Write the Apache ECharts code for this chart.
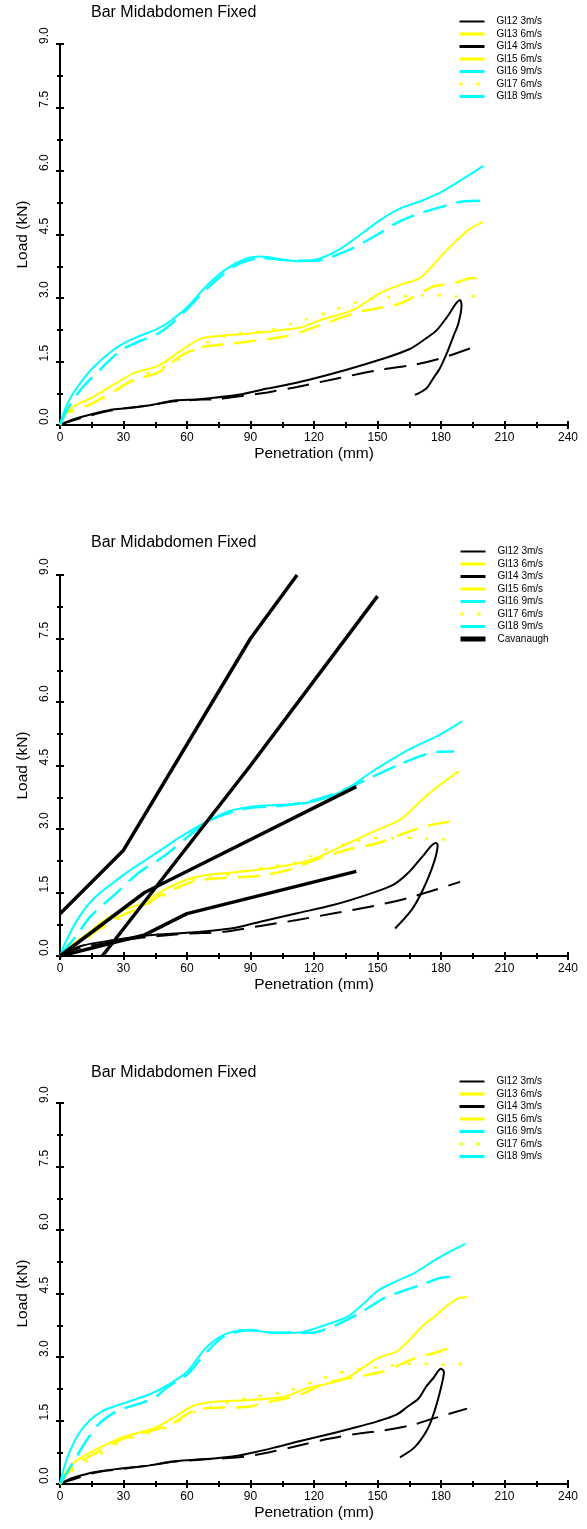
<!DOCTYPE html>
<html>
<head>
<meta charset="utf-8">
<title>Bar Midabdomen Fixed</title>
<script src="https://cdn.jsdelivr.net/npm/echarts@6/dist/echarts.min.js"></script>
<style>
	html, body { margin: 0; padding: 0; background: #fff; }
	#chart { width: 587px; height: 1529px; }
</style>
</head>
<body>
<div id="chart"></div>
<script>
	// Penetration (mm) / Load (kN) pairs

	// panel 1
	var p1Gl12 = [[0,0],[5.5,0.12],[14,0.24],[24,0.36],[32,0.40],[44,0.48],[54,0.58],[66,0.61],[85,0.72],[98,0.86],[110,0.98],[120,1.10],[135,1.30],[151,1.54],[165,1.79],[173,2.05],[178,2.24],[183,2.56],[189,2.95],[189.7,2.83],[188.2,2.40],[185.8,2.09],[182.7,1.69],[179.5,1.34],[176.3,1.10],[173.2,0.87],[167.7,0.71]];
	var p1Gl14 = [[0,0],[5.5,0.10],[14,0.22],[24,0.34],[32,0.40],[44,0.48],[54,0.56],[66,0.60],[74,0.61],[85,0.68],[98,0.77],[112,0.90],[131,1.10],[151,1.30],[167,1.42],[179.5,1.57],[195,1.83]];
	var p1Gl13 = [[0,0],[3,0.28],[7,0.46],[14,0.62],[24,0.91],[35,1.23],[46,1.39],[57,1.75],[66,2.03],[76,2.11],[90,2.16],[104,2.24],[114,2.31],[123,2.48],[138.5,2.72],[151,3.11],[160.6,3.31],[170,3.47],[176.3,3.78],[182.7,4.13],[190,4.48],[194,4.65],[200,4.8]];
	var p1Gl15 = [[0,0],[3,0.28],[14,0.48],[24,0.76],[35,1.07],[46,1.23],[57,1.63],[66,1.83],[79,1.91],[92,1.99],[106,2.09],[114,2.20],[123,2.36],[142,2.68],[160.6,2.87],[176.3,3.27],[186,3.35],[195,3.47],[200,3.43]];
	var p1Gl17 = [[0,0],[3,0.24],[12.6,0.44],[22,0.68],[35,1.07],[44,1.27],[50.5,1.39],[60,1.67],[69.5,1.95],[82,2.15],[98,2.23],[113.5,2.45],[127.5,2.68],[143.3,2.95],[159,3.03],[175,3.07],[190.5,3.03],[200,3.07]];
	var p1Gl16 = [[0,0],[2,0.32],[5,0.65],[9,0.95],[14,1.27],[20,1.56],[26,1.8],[32,1.98],[40,2.15],[46,2.27],[52,2.45],[60,2.78],[69.5,3.3],[79,3.7],[88.5,3.94],[95,3.98],[106,3.9],[114,3.87],[122,3.92],[132,4.15],[142,4.5],[150,4.8],[160,5.1],[170,5.28],[180,5.5],[190,5.8],[200,6.12]];
	var p1Gl18 = [[0,0],[2,0.22],[5,0.5],[11,0.91],[19,1.31],[28.4,1.75],[38,1.99],[46,2.15],[52,2.36],[58.5,2.66],[69.5,3.22],[82,3.74],[95,3.94],[107,3.90],[120,3.88],[135,4.1],[150,4.5],[160,4.8],[170,5.0],[180,5.15],[190,5.28],[200,5.3]];

	// panel 2
	var p2Gl12 = [[0,0],[4,0.12],[10.8,0.25],[24.8,0.37],[42,0.49],[60,0.55],[80.6,0.65],[94.6,0.81],[112,1.01],[129.5,1.21],[147,1.48],[157.4,1.68],[164.4,1.96],[171.4,2.36],[177.5,2.67],[178.4,2.63],[176.6,2.20],[171.4,1.56],[166.1,1.09],[158.3,0.65]];
	var p2Gl14 = [[0,0],[4,0.1],[10.8,0.21],[24.8,0.33],[42,0.45],[60,0.53],[77,0.57],[94.6,0.71],[112,0.85],[129.5,1.01],[147,1.17],[164.4,1.37],[189,1.75]];
	var p2Gl13 = [[0,0],[4,0.2],[10.8,0.45],[24.8,0.97],[38.7,1.25],[49.2,1.56],[59.7,1.80],[70.2,1.92],[87.6,2.0],[105,2.12],[119,2.28],[136.5,2.67],[150.4,2.99],[161,3.23],[171.4,3.71],[180,4.06],[188.3,4.36]];
	var p2Gl15 = [[0,0],[4,0.16],[10.8,0.37],[24.8,0.85],[38.7,1.17],[49.2,1.48],[63.2,1.76],[77,1.84],[94.6,1.90],[108.5,2.04],[120.8,2.28],[136.5,2.52],[150.4,2.67],[161,2.87],[173,3.07],[185.3,3.19]];
	var p2Gl17 = [[0,0],[4,0.15],[12.6,0.41],[26.5,0.85],[42,1.25],[52.7,1.52],[63.2,1.80],[75.4,1.88],[94.6,2.08],[110.3,2.20],[126,2.52],[136.5,2.67],[150.4,2.79],[166,2.79],[181.8,2.75]];
	var p2Gl16 = [[0,0],[1.5,0.2],[3.8,0.45],[7.5,0.8],[12.6,1.17],[18,1.45],[24.8,1.72],[33.5,2.04],[45.7,2.44],[56.2,2.79],[68.4,3.15],[80.6,3.43],[94.6,3.55],[112,3.59],[124.3,3.71],[136.5,3.98],[147,4.34],[157.4,4.66],[165,4.88],[179.5,5.23],[190,5.55]];
	var p2Gl18 = [[0,0],[3,0.2],[7.3,0.45],[14.3,0.93],[26.5,1.48],[37,1.96],[49.2,2.36],[59.7,2.79],[70.2,3.19],[87.6,3.48],[105,3.55],[119,3.67],[133,3.90],[147,4.22],[161,4.54],[171.4,4.74],[178.4,4.82],[186.2,4.83]];
	// Cavanaugh corridor lines
	var cavA = [[0,1.0],[30,2.5],[90,7.5],[112,9.0]];
	var cavB = [[20,0],[90,4.5],[150,8.5]];
	var cavC = [[0,0],[40,1.5],[140,4.0]];
	var cavD = [[0,0],[40,0.5],[60,1.0],[140,2.0]];

	// panel 3
	var p3Gl12 = [[0,0],[3,0.08],[7,0.16],[16,0.28],[28,0.36],[42.4,0.44],[53,0.53],[63.5,0.57],[74,0.61],[83,0.66],[92,0.75],[102,0.87],[113,1.01],[125,1.15],[137.6,1.31],[150,1.48],[159,1.64],[164,1.82],[169.4,2.02],[173,2.30],[176.5,2.51],[180,2.72],[181.4,2.65],[180.3,2.34],[177.3,1.78],[173.8,1.31],[167.6,0.87],[160.6,0.63]];
	var p3Gl14 = [[0,0],[3,0.06],[7,0.12],[17.6,0.28],[30,0.36],[42.4,0.44],[54.7,0.53],[70.6,0.59],[84.7,0.63],[99,0.75],[113,0.91],[127,1.07],[141,1.19],[153.5,1.27],[166,1.39],[176.5,1.55],[192.3,1.78]];
	var p3Gl13 = [[0,0],[3,0.3],[7,0.52],[12,0.68],[17.6,0.83],[30,1.11],[44,1.31],[53,1.55],[63.5,1.86],[72.3,1.94],[88,1.98],[106,2.06],[116.5,2.26],[130.6,2.42],[139,2.61],[150,2.97],[159,3.13],[166,3.45],[171,3.72],[178,4.0],[183.5,4.24],[189,4.40],[192.3,4.41]];
	var p3Gl15 = [[0,0],[3,0.22],[7,0.44],[17.6,0.75],[30,1.07],[44,1.27],[53,1.43],[63.5,1.74],[74,1.80],[88,1.82],[99,1.94],[113,2.10],[123.5,2.34],[132,2.46],[141,2.54],[152,2.65],[162,2.85],[169.4,3.01],[176.5,3.09],[183.5,3.21],[187,3.25]];
	var p3Gl17 = [[0,0],[4,0.22],[8.8,0.44],[17.6,0.67],[30,1.03],[44,1.23],[53,1.39],[63.5,1.70],[74,1.86],[88,2.02],[106,2.18],[120,2.42],[130.6,2.61],[144.7,2.73],[159,2.81],[169.4,2.85],[183.5,2.81],[192.3,2.85]];
	var p3Gl16 = [[0,0],[2,0.4],[5,0.82],[9,1.2],[14,1.5],[20,1.72],[26,1.84],[32,1.94],[42.4,2.12],[51,2.34],[60,2.65],[68.8,3.21],[77.6,3.53],[88,3.64],[102,3.57],[113,3.58],[125,3.75],[136,3.96],[143,4.24],[150,4.56],[159,4.79],[167.6,4.99],[176.5,5.27],[183.5,5.47],[191.5,5.67]];
	var p3Gl18 = [[0,0],[3,0.25],[7,0.58],[12.4,1.02],[18,1.4],[24,1.64],[30,1.78],[44,2.02],[51,2.30],[60,2.58],[68.8,3.09],[77.6,3.49],[90,3.64],[102,3.57],[118,3.57],[130.6,3.76],[143,4.08],[153.5,4.40],[162,4.56],[171,4.71],[180,4.87],[188,4.91]];

	var testNames = ['Gl12 3m/s', 'Gl13 6m/s', 'Gl14 3m/s', 'Gl15 6m/s', 'Gl16 9m/s', 'Gl17 6m/s', 'Gl18 9m/s'];
	var panelTitle = 'Bar Midabdomen Fixed';

	var FONT = '"Liberation Sans", Arial, sans-serif';
	var BLACK = '#000000', YELLOW = '#ffff00', CYAN = '#00ffff';

	// per test: colour, width, dash
	var looks = {
		'Gl12 3m/s': { color: BLACK, width: 2, type: 'solid' },
		'Gl13 6m/s': { color: YELLOW, width: 2, type: 'solid' },
		'Gl14 3m/s': { color: BLACK, width: 2, type: [22, 11] },
		'Gl15 6m/s': { color: YELLOW, width: 2.5, type: [22, 11] },
		'Gl16 9m/s': { color: CYAN, width: 2, type: 'solid' },
		'Gl17 6m/s': { color: YELLOW, width: 2.5, type: [3, 14] },
		'Gl18 9m/s': { color: CYAN, width: 2.5, type: [24, 10] },
		'Cavanaugh': { color: BLACK, width: 3.5, type: 'solid' }
	};

	var panels = [
		{ top: 44, titleTop: 5, legendTop: 15.5, data: [p1Gl12, p1Gl13, p1Gl14, p1Gl15, p1Gl16, p1Gl17, p1Gl18], cav: [] },
		{ top: 575, titleTop: 535, legendTop: 545.5, data: [p2Gl12, p2Gl13, p2Gl14, p2Gl15, p2Gl16, p2Gl17, p2Gl18], cav: [cavA, cavB, cavC, cavD] },
		{ top: 1103, titleTop: 1065, legendTop: 1075.5, data: [p3Gl12, p3Gl13, p3Gl14, p3Gl15, p3Gl16, p3Gl17, p3Gl18], cav: [] }
	];

	function lineSeries(name, data, gi, smooth) {
		var lk = looks[name];
		return {
			name: name,
			type: 'line',
			xAxisIndex: gi * 2,
			yAxisIndex: gi * 2,
			data: data,
			symbol: 'none',
			showSymbol: false,
			smooth: smooth,
			animation: false,
			silent: true,
			z: name == 'Cavanaugh' ? 5 : 3,
			itemStyle: { color: lk.color },
			lineStyle: { color: lk.color, width: lk.width, type: lk.type, cap: 'butt' }
		};
	}

	function legendItem(name) {
		var lk = looks[name];
		var w = name == 'Gl12 3m/s' ? 2 : (name == 'Cavanaugh' ? 5 : 3);
		return {
			name: name,
			itemStyle: { opacity: 0 },   // hide the marker the line icon gets by default
			lineStyle: { color: lk.color, width: w, type: name == 'Gl17 6m/s' ? [3, 14] : 'solid' }
		};
	}

	var tickStyle = { color: BLACK, width: 2 };
	var grids = [], xAxes = [], yAxes = [], series = [], titles = [], legends = [];

	panels.forEach(function(p, gi) {
		grids.push({ left: 60, top: p.top, width: 508, height: 381, outerBoundsMode: 'none', containLabel: false });

		// main x axis (line, outer ticks, labels) + overlay giving the inner half of the ticks
		xAxes.push({
			type: 'value', gridIndex: gi, position: 'bottom', min: 0, max: 240, interval: 30,
			name: 'Penetration (mm)', nameLocation: 'middle', nameGap: 21,
			nameTextStyle: { fontFamily: FONT, fontSize: 15.5, color: BLACK, verticalAlign: 'top' },
			axisLine: { show: true, onZero: false, lineStyle: tickStyle },
			axisTick: { show: true, inside: false, length: 4, lineStyle: tickStyle },
			minorTick: { show: true, splitNumber: 2, length: 3, lineStyle: tickStyle },
			axisLabel: { margin: 7, fontFamily: FONT, fontSize: 12, color: BLACK },
			splitLine: { show: false }, minorSplitLine: { show: false }
		});
		xAxes.push({
			type: 'value', gridIndex: gi, position: 'bottom', min: 0, max: 240, interval: 30,
			axisLine: { show: false, onZero: false },
			axisTick: { show: true, inside: true, length: 4, lineStyle: tickStyle },
			minorTick: { show: true, splitNumber: 2, length: 3, lineStyle: tickStyle },
			axisLabel: { show: false },
			splitLine: { show: false }, minorSplitLine: { show: false }
		});

		yAxes.push({
			type: 'value', gridIndex: gi, position: 'left', min: 0, max: 9, interval: 1.5,
			name: 'Load (kN)', nameLocation: 'middle', nameGap: 28, nameRotate: 90,
			nameTextStyle: { fontFamily: FONT, fontSize: 15.5, color: BLACK },
			axisLine: { show: true, onZero: false, lineStyle: tickStyle },
			axisTick: { show: true, inside: false, length: 4, lineStyle: tickStyle },
			minorTick: { show: true, splitNumber: 2, length: 3, lineStyle: tickStyle },
			axisLabel: {
				rotate: 90, margin: 9, align: 'left', verticalAlign: 'bottom',
				fontFamily: FONT, fontSize: 12, color: BLACK,
				formatter: function(v) { return v.toFixed(1); }
			},
			splitLine: { show: false }, minorSplitLine: { show: false }
		});
		yAxes.push({
			type: 'value', gridIndex: gi, position: 'left', min: 0, max: 9, interval: 1.5,
			axisLine: { show: false, onZero: false },
			axisTick: { show: true, inside: true, length: 4, lineStyle: tickStyle },
			minorTick: { show: true, splitNumber: 2, length: 3, lineStyle: tickStyle },
			axisLabel: { show: false },
			splitLine: { show: false }, minorSplitLine: { show: false }
		});

		titles.push({
			text: panelTitle, left: 91, top: p.titleTop, padding: 0,
			textStyle: { fontFamily: FONT, fontSize: 16, fontWeight: 'normal', color: BLACK }
		});

		var names = testNames.slice();
		if (p.cav.length) names.push('Cavanaugh');
		legends.push({
			orient: 'vertical', left: 458, top: p.legendTop, padding: 0,
			itemWidth: 25, itemHeight: 12, itemGap: 0.5, selectedMode: false,
			textStyle: { fontFamily: FONT, fontSize: 10, color: BLACK, lineHeight: 12, padding: [0, 0, 0, 7] },
			data: names.map(legendItem)
		});

		testNames.forEach(function(n, k) {
			series.push(lineSeries(n, p.data[k], gi, 0.3));
		});
		p.cav.forEach(function(c) {
			series.push(lineSeries('Cavanaugh', c, gi, false));
		});
	});

	var chart = echarts.init(document.getElementById('chart'));
	chart.setOption({
		animation: false,
		backgroundColor: '#ffffff',
		title: titles,
		legend: legends,
		grid: grids,
		xAxis: xAxes,
		yAxis: yAxes,
		series: series
	});
</script>
</body>
</html>
